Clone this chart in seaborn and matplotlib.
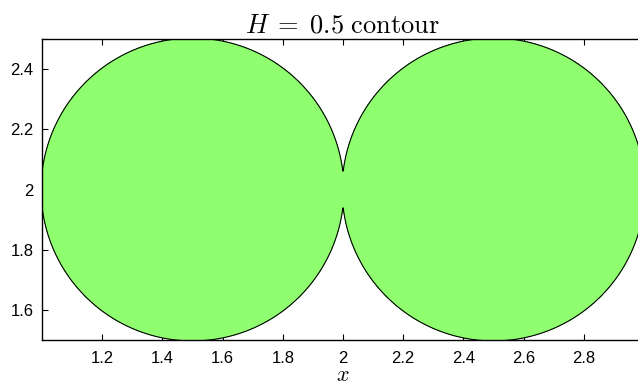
import numpy as np
import matplotlib
matplotlib.use("Agg")
import matplotlib.pyplot as plt
import seaborn as sns

# Two potential wells and the level set that is drawn
centers_x = [1.5, 2.5]
centers_y = [2.0, 2.0]
well_radius = [0.503, 0.503]
level = 0.5
x_range = [1.0, 3.0]
y_range = [1.5, 2.5]
x_ticks = [1.2, 1.4, 1.6, 1.8, 2.0, 2.2, 2.4, 2.6, 2.8]
x_tick_labels = ["1.2", "1.4", "1.6", "1.8", "2", "2.2", "2.4", "2.6", "2.8"]
y_ticks = [1.6, 1.8, 2.0, 2.2, 2.4]
y_tick_labels = ["1.6", "1.8", "2", "2.2", "2.4"]

sns.set_theme(style="white")
plt.rcParams["font.family"] = ["Liberation Sans", "DejaVu Sans"]
plt.rcParams["mathtext.fontset"] = "cm"
plt.rcParams["text.color"] = "black"
plt.rcParams["axes.labelcolor"] = "black"
plt.rcParams["xtick.color"] = "black"
plt.rcParams["ytick.color"] = "black"

fig = plt.figure(figsize=(6.38, 3.88), dpi=100)
ax = fig.add_axes([42 / 638, 48 / 388, 602 / 638, 301 / 388])

xs = np.linspace(0.95, 3.05, 1400)
ys = np.linspace(1.45, 2.55, 800)
X, Y = np.meshgrid(xs, ys)
H = np.full_like(X, -np.inf)
for cx, cy, r in zip(centers_x, centers_y, well_radius):
    Hi = 1.0 - 0.5 * ((X - cx) ** 2 + (Y - cy) ** 2) / r ** 2
    H = np.maximum(H, Hi)

ax.contourf(X, Y, H, levels=[level, H.max() + 1], colors=["#8fff70"])
ax.contour(X, Y, H, levels=[level], colors="black", linewidths=0.8)

ax.set_xlim(*x_range)
ax.set_ylim(*y_range)
ax.set_xticks(x_ticks)
ax.set_xticklabels(x_tick_labels)
ax.set_yticks(y_ticks)
ax.set_yticklabels(y_tick_labels)
ax.tick_params(direction="in", length=4, width=0.8, color="black",
               labelcolor="black",
               bottom=True, left=True, top=True, right=True,
               labelsize=12, pad=6)
ax.tick_params(axis="x", pad=8)
for s in ax.spines.values():
    s.set_color("black")
    s.set_linewidth(1.0)

ax.set_title(r"$H\;=\;0.5\ \mathrm{contour}$", fontsize=19, pad=5,
             color="black")
ax.set_xlabel(r"$x$", fontsize=16, labelpad=-1, color="black")

fig.savefig("out.png", dpi=100)
